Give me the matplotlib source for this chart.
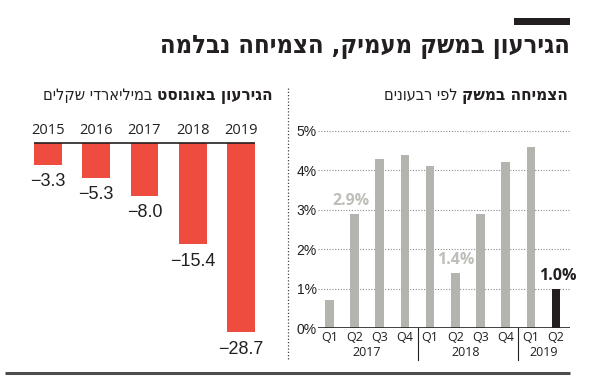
"""Israel deficit (August) and quarterly GDP growth, two-panel newspaper graphic."""
import matplotlib
matplotlib.use("Agg")
import matplotlib.pyplot as plt
from matplotlib.patches import Rectangle

# ============================================================
# Data
# ============================================================
deficit_years = ["2015", "2016", "2017", "2018", "2019"]
deficit_values = [-3.3, -5.3, -8.0, -15.4, -28.7]

growth_quarters = ["Q1", "Q2", "Q3", "Q4", "Q1", "Q2", "Q3", "Q4", "Q1", "Q2"]
growth_values = [0.7, 2.9, 4.3, 4.4, 4.1, 1.4, 2.9, 4.2, 4.6, 1.0]
growth_years = ["2017", "2018", "2019"]
growth_year_pos = [1.5, 5.4, 8.5]
growth_highlight = [1, 5, 9]
growth_ticks = [0, 1, 2, 3, 4, 5]

TITLE = "הגירעון במשק מעמיק, הצמיחה נבלמה"
SUB_LEFT_BOLD = "הגירעון באוגוסט"
SUB_LEFT_REG = "במיליארדי שקלים"
SUB_RIGHT_BOLD = "הצמיחה במשק"
SUB_RIGHT_REG = "לפי רבעונים"

# ============================================================
# Style
# ============================================================
RED = "#ef4c40"
GRAY = "#b3b4ae"
GRAY_LBL = "#bdbeb8"
INK = "#231f20"
RULE = "#4d4d4f"

HEB = ["DejaVu Sans", "Liberation Sans"]
LAT = ["Open Sans", "DejaVu Sans"]
NARROW = ["Liberation Sans Narrow", "Liberation Sans", "DejaVu Sans"]

W, H = 590, 379
fig = plt.figure(figsize=(W / 100, H / 100), dpi=100)
fig.patch.set_facecolor("white")


def box(x0, y0, x1, y1):
    """pixel box (top-left origin) -> figure fraction rect"""
    return [x0 / W, 1 - y1 / H, (x1 - x0) / W, (y1 - y0) / H]


def rtl(s):
    return s[::-1]


# overlay axes in pixel units for title, rules, separators
ax0 = fig.add_axes([0, 0, 1, 1])
ax0.set_xlim(0, W)
ax0.set_ylim(H, 0)
ax0.axis("off")

renderer = fig.canvas.get_renderer()


def fit_text(x, y, s, width, **kw):
    t = ax0.text(x, y, s, **kw)
    w = t.get_window_extent(renderer).width
    t.set_fontsize(t.get_fontsize() * width / w)
    return t


def heb_line(x_right, y, bold, regular, bold_width):
    t = fit_text(x_right, y, rtl(bold), bold_width, ha="right", va="baseline",
                 fontsize=12, fontweight="bold", fontstretch="condensed",
                 family=HEB, color=INK)
    w = t.get_window_extent(renderer).width
    ax0.text(x_right - w - 5, y, rtl(regular), ha="right", va="baseline",
             fontsize=t.get_fontsize() * 0.95, fontstretch="condensed",
             family=HEB, color=INK)


# header
ax0.add_patch(Rectangle((514, 18), 56, 7, color=INK, lw=0))
fit_text(570, 53, rtl(TITLE), 408, ha="right", va="baseline",
         fontsize=18, fontweight="bold", fontstretch="condensed",
         family=HEB, color=INK)
heb_line(273, 100, SUB_LEFT_BOLD, SUB_LEFT_REG, 116)
heb_line(568, 100, SUB_RIGHT_BOLD, SUB_RIGHT_REG, 105)

# panel separator + bottom rule
ax0.plot([288, 288], [88, 360], color="#444444", lw=0.9, ls=(0, (1, 1.6)))
ax0.plot([5, 570], [373, 373], color=RULE, lw=2.2, solid_capstyle="butt")

# ============================================================
# Left: deficit bars
# ============================================================
ax1 = fig.add_axes(box(24, 143, 265, 340.7))
ax1.set_xlim(-0.5, 4.5)
ax1.set_ylim(-30, 0)
ax1.axis("off")
x1 = list(range(len(deficit_values)))
ax1.bar(x1, deficit_values, width=0.58, color=RED, zorder=2)
ax1.hlines(0, -0.29, 4.29, color=INK, lw=1.2, zorder=3, clip_on=False)
for i, (yr, v) in enumerate(zip(deficit_years, deficit_values)):
    ax1.annotate(yr, (i, 0), xytext=(0, 12), textcoords="offset pixels",
                 ha="center", va="center", fontsize=10.5, family=LAT,
                 color=INK, annotation_clip=False)
    ax1.annotate(f"{v:.1f}".replace("-", "\u2212"), (i, v), xytext=(0, -17),
                 textcoords="offset pixels", ha="center", va="center",
                 fontsize=13, family=NARROW, color=INK, annotation_clip=False)

# ============================================================
# Right: quarterly growth
# ============================================================
ax2 = fig.add_axes(box(318, 127, 570, 328))
ax2.set_xlim(-0.45, 9.55)
ax2.set_ylim(0, 5.1)
for s in ax2.spines.values():
    s.set_visible(False)
x2 = list(range(len(growth_values)))
colors = [GRAY] * (len(growth_values) - 1) + [INK]
ax2.bar(x2, growth_values, width=0.34, color=colors, zorder=2)
for t in growth_ticks[1:]:
    ax2.axhline(t, color="#8c8c8c", lw=0.8, ls=(0, (1, 1.5)), zorder=0)
ax2.axhline(0, color=INK, lw=1.2, zorder=3)

ax2.set_yticks(growth_ticks)
ax2.set_yticklabels([f"{t}%" for t in growth_ticks], family=NARROW,
                    fontsize=10, color=INK)
ax2.set_xticks(x2)
ax2.set_xticklabels(growth_quarters, family=LAT, fontsize=9, color=INK)
ax2.tick_params(length=0, pad=2)
ax2.tick_params(axis="y", pad=1)

for yr, p in zip(growth_years, growth_year_pos):
    ax2.annotate(yr, (p, 0), xytext=(0, -24), textcoords="offset pixels",
                 ha="center", va="center", fontsize=9, family=LAT,
                 color=INK, annotation_clip=False)
for sx in [3.5, 7.5]:
    ax2.plot([sx, sx], [0, -32 / 39.4], color=INK, lw=0.8, clip_on=False)

offsets = {1: -4, 5: 0, 9: 2}
for i in growth_highlight:
    v = growth_values[i]
    c = INK if i == len(growth_values) - 1 else GRAY_LBL
    ax2.annotate(f"{v:.1f}%", (i, v), xytext=(offsets[i], 13),
                 textcoords="offset pixels", ha="center", va="center",
                 fontsize=11.5, fontweight="bold", family=LAT, color=c,
                 annotation_clip=False)

fig.savefig("out.png", dpi=100, facecolor="white")
